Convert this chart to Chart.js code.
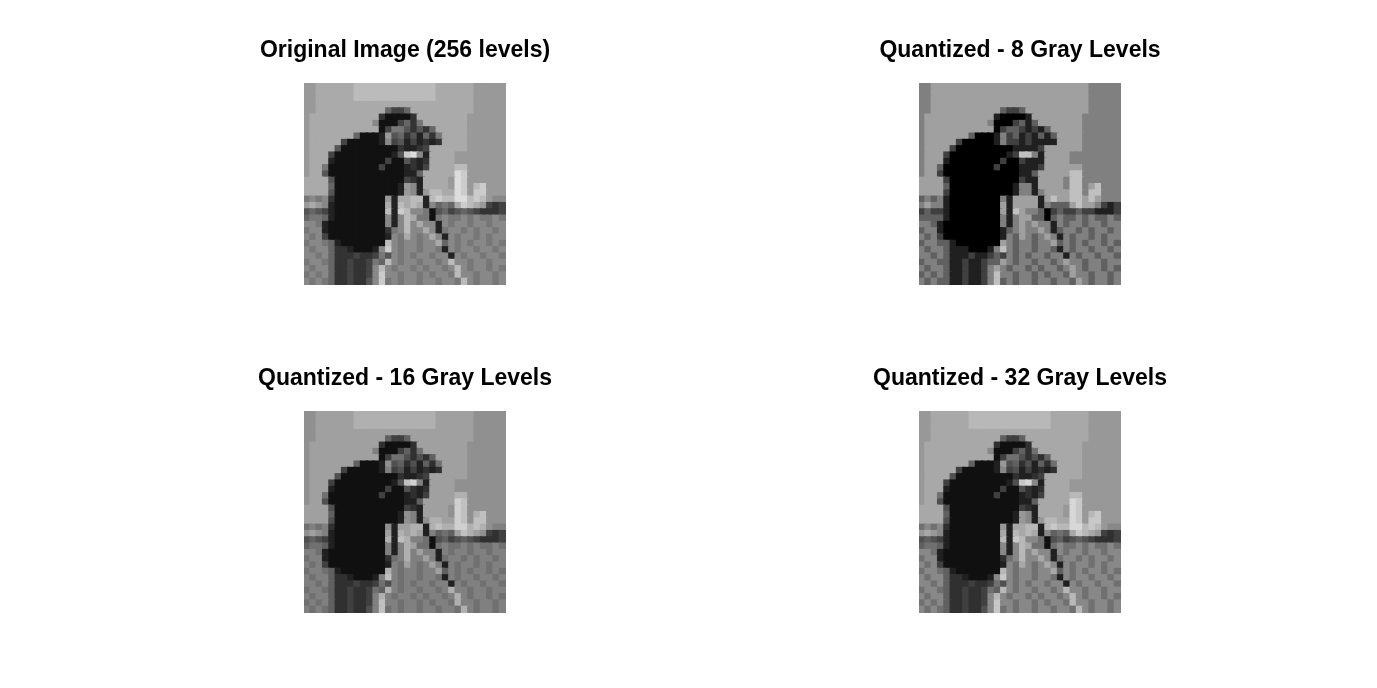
<!DOCTYPE html>
<html>
<head>
<meta charset="utf-8">
<script src="https://cdn.jsdelivr.net/npm/chart.js@4/dist/chart.umd.min.js"></script>
<style>
html,body{margin:0;padding:0;background:#fff;width:1377px;height:688px;overflow:hidden}
.panel{position:absolute;width:440px;height:265px}
</style>
</head>
<body>
<div class="panel" style="left:185px;top:20px"><canvas id="p0"></canvas></div>
<div class="panel" style="left:800px;top:20px"><canvas id="p1"></canvas></div>
<div class="panel" style="left:185px;top:348px"><canvas id="p2"></canvas></div>
<div class="panel" style="left:800px;top:348px"><canvas id="p3"></canvas></div>
<script>
// Panel titles and the number of gray levels shown in each panel
const panelTitles = [
  'Original Image (256 levels)',
  'Quantized - 8 Gray Levels',
  'Quantized - 16 Gray Levels',
  'Quantized - 32 Gray Levels'
];
const grayLevels = [256, 8, 16, 32];

// Coarse 32x32 reading of the original image; each hex digit is a gray code (0 = black, f = white)
const originalRows = [
  "99aaaaaabbbbbbbbbbbbbaaaaaa99999",
  "99aaaaaabbbbbbbbbbbbbaaaaaa99999",
  "99aaaaaabbbbbbbbbbbbbaaaaaa99999",
  "99aaaaaaaaaaaaaaaaaaaaaaaaa99999",
  "99aaaaaaaaaaa6446aaaaaaaaaa99999",
  "9aaaaaaaaaaa311113aaaaaaaa999999",
  "9aaaaaaaaaa81114637aaaaaaa999999",
  "9aaaaaaaaaaa147753536aaaaa999999",
  "9aaaaaaa61112956352637aaaa999999",
  "9aaaaa4111112845242323aaaa999999",
  "9aaaa511111111132234aaaaaa999999",
  "9aaa411111111125cd82aaaa99999999",
  "9aaa2111111114115323aaaa99999999",
  "9aa71111111141112324aaaabb999999",
  "9aa5111111111111226aaaaadc999999",
  "aaaa511111111111432aaaa9dc999999",
  "aaaa611111111112982aaaa9dc9bc999",
  "aaaa5111111111129829bbaadc9cc999",
  "787831111111192aabb2bcbbddbcb988",
  "9a98211111111a2baba28676acba9434",
  "5654211111111b2cb887156456543334",
  "6776211111111828ba77178778787787",
  "8872111111111828b8a8828788788788",
  "7882111111111378b88a827887878878",
  "8784111111111287a878a82878878788",
  "7887621111111b8788788a6878788787",
  "8788633211128c878878872878878878",
  "88786333433475878788788287887887",
  "7887633433476b878878878b88788788",
  "878863343348b87887878878b8788787",
  "787863343348c88788787887b8878878",
  "878763343358c787887887887b878878"
];

function quantize(g, levels) {
  if (levels >= 256) return g;
  const step = 256 / levels;
  return Math.floor(g / step) * step;
}

function buildDataset(levels) {
  const pts = [];
  const cols = [];
  originalRows.forEach((row, r) => {
    for (let c = 0; c < row.length; c++) {
      const g = parseInt(row[c], 16) * 17;
      const q = quantize(g, levels);
      pts.push({ x: c + 0.5, y: r + 0.5 });
      cols.push('rgb(' + q + ',' + q + ',' + q + ')');
    }
  });
  return { pts, cols };
}

const nCols = 32, nRows = 32;

// cell-sized square markers, with one extra pixel on each side so neighbours overlap
function cellRadius(ctx) {
  const s = ctx.chart.scales.x;
  const cell = Math.abs(s.getPixelForValue(1) - s.getPixelForValue(0));
  return (cell / 2 + 1) / Math.SQRT1_2;
}

// let the title use the whole canvas width instead of the padded chart width
const wideTitle = {
  id: 'wideTitle',
  afterLayout(chart) {
    const t = chart.titleBlock;
    if (t) { t.left = 0; t.right = chart.width; t.width = chart.width; }
  }
};

panelTitles.forEach((title, i) => {
  const d = buildDataset(grayLevels[i]);
  new Chart(document.getElementById('p' + i), {
    type: 'scatter',
    data: {
      datasets: [{
        data: d.pts,
        backgroundColor: d.cols,
        borderWidth: 0,
        pointStyle: 'rect',
        pointRadius: cellRadius,
        pointHoverRadius: cellRadius
      }]
    },
    plugins: [wideTitle],
    options: {
      responsive: true,
      maintainAspectRatio: false,
      animation: false,
      events: [],
      layout: { padding: { left: 119, right: 119, top: 0, bottom: 0 } },
      scales: {
        x: { type: 'linear', min: 0, max: nCols, display: false },
        y: { type: 'linear', min: 0, max: nRows, reverse: true, display: false }
      },
      plugins: {
        legend: { display: false },
        tooltip: { enabled: false },
        title: {
          display: true,
          text: title,
          color: '#000',
          font: { family: "'Liberation Sans', Arial, Helvetica, sans-serif", size: 23, weight: 'bold', lineHeight: 1.2 },
          padding: { top: 16.6, bottom: 18.8 }
        }
      }
    }
  });
});
</script>
</body>
</html>
